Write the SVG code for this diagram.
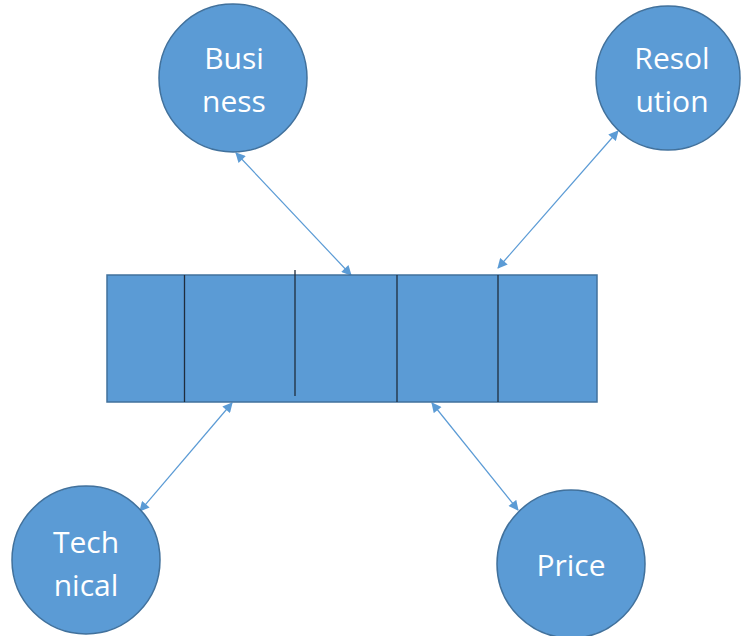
<svg xmlns="http://www.w3.org/2000/svg" width="742" height="636" viewBox="0 0 742 636">
<style>
.node{fill:#5B9BD5;stroke:#41719C;stroke-width:1.5}
.lbl{font-family:"Open Sans","Liberation Sans",sans-serif;font-size:30px;fill:#ffffff;text-anchor:middle}
.div{stroke:#1F2D3D;stroke-width:1.3}
.con{stroke:#5B9BD5;stroke-width:1.2;fill:none;marker-start:url(#ah);marker-end:url(#ah)}
</style>
<defs>
<marker id="ah" viewBox="0 0 10 10" refX="9" refY="5" markerWidth="11" markerHeight="10" markerUnits="userSpaceOnUse" orient="auto-start-reverse">
<path d="M0,0 L10,5 L0,10 z" fill="#5B9BD5"/>
</marker>
</defs>
<rect width="742" height="636" fill="#ffffff"/>
<g id="connectors">
<line class="con" x1="236" y1="153" x2="351" y2="275"/>
<line class="con" x1="618" y1="131" x2="498" y2="268"/>
<line class="con" x1="232" y1="403" x2="140" y2="511"/>
<line class="con" x1="432" y1="403" x2="518" y2="510"/>
</g>
<g id="array">
<rect class="node" x="107" y="275" width="490" height="127"/>
<line class="div" x1="184.5" y1="275" x2="184.5" y2="402"/>
<line class="div" x1="295" y1="270" x2="295" y2="396"/>
<line class="div" x1="397" y1="275" x2="397" y2="402"/>
<line class="div" x1="498" y1="275" x2="498" y2="402"/>
</g>
<g id="business">
<circle class="node" cx="233" cy="78" r="74"/>
<text class="lbl" x="234" y="69">Busi</text>
<text class="lbl" x="234" y="112">ness</text>
</g>
<g id="resolution">
<circle class="node" cx="668" cy="78" r="72"/>
<text class="lbl" x="672" y="69">Resol</text>
<text class="lbl" x="672" y="112">ution</text>
</g>
<g id="technical">
<circle class="node" cx="86" cy="560" r="74"/>
<text class="lbl" x="86" y="553">Tech</text>
<text class="lbl" x="86" y="596">nical</text>
</g>
<g id="price">
<circle class="node" cx="571" cy="564" r="74"/>
<text class="lbl" x="571" y="576">Price</text>
</g>
</svg>
